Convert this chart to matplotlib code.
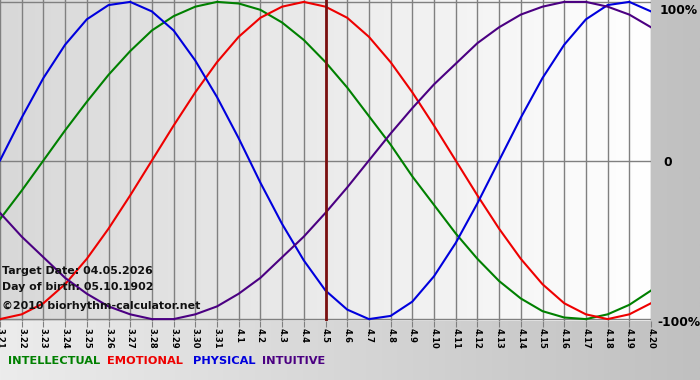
import numpy as np
import matplotlib.pyplot as plt
from matplotlib.colors import LinearSegmentedColormap

# ---- data ----
dates = ["3.21", "3.22", "3.23", "3.24", "3.25", "3.26", "3.27", "3.28", "3.29", "3.30", "3.31",
         "4.1", "4.2", "4.3", "4.4", "4.5", "4.6", "4.7", "4.8", "4.9", "4.10",
         "4.11", "4.12", "4.13", "4.14", "4.15", "4.16", "4.17", "4.18", "4.19", "4.20"]

intellectual = [-0.37, -0.19, 0.00, 0.19, 0.37, 0.54, 0.69, 0.82, 0.91, 0.97, 1.00,
                0.99, 0.95, 0.87, 0.76, 0.62, 0.46, 0.28, 0.10, -0.10, -0.28,
                -0.46, -0.62, -0.76, -0.87, -0.95, -0.99, -1.00, -0.97, -0.91, -0.82]

emotional = [-1.00, -0.97, -0.90, -0.78, -0.62, -0.43, -0.22, 0.00, 0.22, 0.43, 0.62,
             0.78, 0.90, 0.97, 1.00, 0.97, 0.90, 0.78, 0.62, 0.43, 0.22,
             0.00, -0.22, -0.43, -0.62, -0.78, -0.90, -0.97, -1.00, -0.97, -0.90]

physical = [0.00, 0.27, 0.52, 0.73, 0.89, 0.98, 1.00, 0.94, 0.82, 0.63, 0.40,
            0.14, -0.14, -0.40, -0.63, -0.82, -0.94, -1.00, -0.98, -0.89, -0.73,
            -0.52, -0.27, 0.00, 0.27, 0.52, 0.73, 0.89, 0.98, 1.00, 0.94]

intuitive = [-0.33, -0.48, -0.61, -0.74, -0.84, -0.92, -0.97, -1.00, -1.00, -0.97, -0.92,
             -0.84, -0.74, -0.61, -0.48, -0.33, -0.17, 0.00, 0.17, 0.33, 0.48,
             0.61, 0.74, 0.84, 0.92, 0.97, 1.00, 1.00, 0.97, 0.92, 0.84]

target_label = "4.5"
series_names = ["INTELLECTUAL", "EMOTIONAL", "PHYSICAL", "INTUITIVE"]
series_colors = ["#008000", "#ee0000", "#0000dd", "#4b0082"]
y_labels = ["100%", "0", "-100%"]
info_lines = ["Target Date: 04.05.2026", "Day of birth: 05.10.1902", "\u00a92010 biorhythm-calculator.net"]

W, H = 700, 380
fig = plt.figure(figsize=(W / 100, H / 100), dpi=100)

# figure background gradient
bg = fig.add_axes([0, 0, 1, 1], zorder=0)
bg.imshow(np.linspace(0, 1, 256).reshape(1, -1),
          cmap=LinearSegmentedColormap.from_list("bg", ["#ececec", "#c0c0c0"]),
          aspect="auto", extent=[0, 1, 0, 1])
bg.set_xlim(0, 1); bg.set_ylim(0, 1)
bg.axis("off")

# plot area
ax_l, ax_r, ax_t, ax_b = 0, 651, 0, 321
ax = fig.add_axes([ax_l / W, 1 - ax_b / H, (ax_r - ax_l) / W, (ax_b - ax_t) / H], zorder=1)
x = np.arange(len(dates))
ymin, ymax = -1.012, 1.012
ax.imshow(np.linspace(0, 1, 256).reshape(1, -1),
          cmap=LinearSegmentedColormap.from_list("pa", ["#d8d8d8", "#ffffff"]),
          aspect="auto", extent=[x[0], x[-1], ymin, ymax], zorder=0)

for xi in x:
    ax.axvline(xi, color="#808080", lw=1, zorder=1)
for yv in (-1, 0, 1):
    ax.axhline(yv, color="#808080", lw=1, zorder=1)

for vals, c in zip([intellectual, emotional, physical, intuitive], series_colors):
    ax.plot(x, vals, color=c, lw=1.5, zorder=3, solid_joinstyle="round")

ax.axvline(dates.index(target_label), color="#7a1010", lw=2, zorder=4)

ax.set_xlim(x[0], x[-1])
ax.set_ylim(ymin, ymax)
ax.set_xticks(x)
ax.set_xticklabels(dates, rotation=270, fontsize=6, fontweight="bold", va="top", ha="center")
ax.tick_params(axis="x", length=4, color="#808080", pad=1)
ax.set_yticks([])
for s in ax.spines.values():
    s.set_visible(False)

# right side labels
fig.text(660 / W, 1 - 10 / H, y_labels[0], fontsize=8.8, fontweight="bold", va="center", ha="left")
fig.text(663 / W, 1 - 162 / H, y_labels[1], fontsize=8.8, fontweight="bold", va="center", ha="left")
fig.text(657 / W, 1 - 322 / H, y_labels[2], fontsize=8.8, fontweight="bold", va="center", ha="left")

# info text
for txt, yy in zip(info_lines, [271, 287, 306]):
    fig.text(2 / W, 1 - yy / H, txt, fontsize=7.9, fontweight="bold", va="center", ha="left",
             color="#111111", zorder=5)

# legend
for name, c, xx in zip(series_names, series_colors, [8, 107, 193, 262]):
    fig.text(xx / W, 1 - 361 / H, name, fontsize=8.2, fontweight="bold", color=c,
             va="center", ha="left")

fig.savefig("out.png", dpi=100)
